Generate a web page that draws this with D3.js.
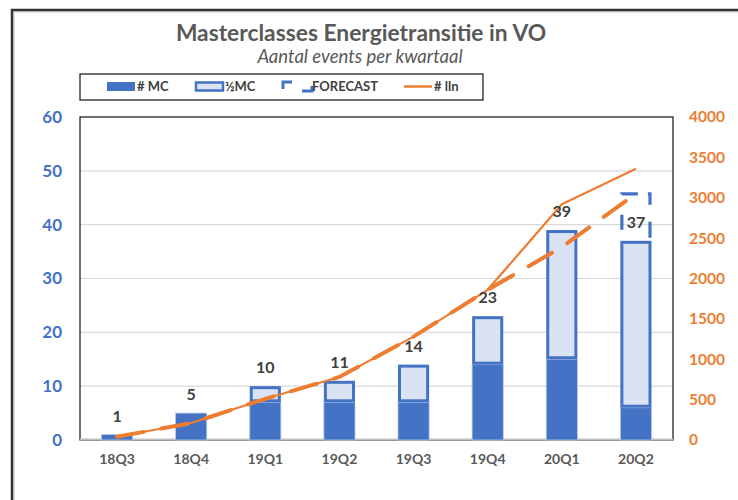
<!DOCTYPE html>
<html>
<head>
<meta charset="utf-8">
<script src="https://cdn.jsdelivr.net/npm/d3@7"></script>
<style>
  html, body { margin: 0; padding: 0; background: #fff; }
  svg { display: block; font-family: Lato, "Open Sans", sans-serif; }
</style>
</head>
<body>
<svg id="chart" width="738" height="500"></svg>
<script>
// ---- data ----
const categories = ["18Q3", "18Q4", "19Q1", "19Q2", "19Q3", "19Q4", "20Q1", "20Q2"];
const mcValues = [1, 5, 7, 7, 7, 14, 15, 6];          // # MC (dark)
const halfMcValues = [0, 0, 3, 4, 7, 9, 24, 31];      // ½MC (light)
const forecastValues = [0, 0, 0, 0, 0, 0, 0, 9];      // FORECAST (dashed outline)
const llnValues = [40, 210, 510, 780, 1280, 1860, 2920, 3360];       // # lln (solid)
const llnForecastValues = [40, 210, 510, 780, 1280, 1860, 2390, 3050]; // dashed forecast line
const leftTicks = [0, 10, 20, 30, 40, 50, 60];
const rightTicks = [0, 500, 1000, 1500, 2000, 2500, 3000, 3500, 4000];
const legendLabels = ["# MC", "½MC", "FORECAST", "# lln"];
const titleText = "Masterclasses Energietransitie in VO";
const subtitleText = "Aantal events per kwartaal";

// ---- layout ----
const svg = d3.select("#chart");
const blue = "#4472C4", lightBlue = "#DAE3F3", orange = "#ED7D31";
const plot = { left: 80, right: 673, top: 117, bottom: 440 };

// outer frame
svg.append("rect").attr("x", 14).attr("y", 12).attr("width", 800).attr("height", 600)
  .attr("fill", "none").attr("stroke", "#e3e3e3").attr("stroke-width", 2);
svg.append("rect").attr("x", 12).attr("y", 10).attr("width", 800).attr("height", 600)
  .attr("fill", "none").attr("stroke", "#333").attr("stroke-width", 2.5);

const x = d3.scaleBand().domain(categories).range([plot.left, plot.right])
  .paddingInner(0.58).paddingOuter(0.29);
const yL = d3.scaleLinear().domain([0, 60]).range([plot.bottom, plot.top]);
const yR = d3.scaleLinear().domain([0, 4000]).range([plot.bottom, plot.top]);

// gridlines
svg.append("g").selectAll("line").data(leftTicks.filter(d => d > 0 && d < 60)).join("line")
  .attr("x1", plot.left).attr("x2", plot.right)
  .attr("y1", d => yL(d)).attr("y2", d => yL(d))
  .attr("stroke", "#d9d9d9").attr("stroke-width", 1.2);

// plot border
svg.append("rect").attr("x", plot.left).attr("y", plot.top)
  .attr("width", plot.right - plot.left).attr("height", plot.bottom - plot.top)
  .attr("fill", "none").attr("stroke", "#111").attr("stroke-width", 1.2);

// axis line at bottom
svg.append("line").attr("x1", plot.left).attr("x2", plot.right)
  .attr("y1", plot.bottom - 0.5).attr("y2", plot.bottom - 0.5)
  .attr("stroke", "#bfbfbf").attr("stroke-width", 2);

// stacked data
const rows = categories.map((c, i) => ({ cat: c, mc: mcValues[i], half: halfMcValues[i], fc: forecastValues[i] }));
const stack = d3.stack().keys(["mc", "half", "fc"])(rows);
const bw = x.bandwidth();

// dark bars
svg.append("g").selectAll("rect").data(stack[0]).join("rect")
  .attr("x", d => x(d.data.cat)).attr("width", bw)
  .attr("y", d => yL(d[1])).attr("height", d => yL(d[0]) - yL(d[1]))
  .attr("fill", blue).attr("stroke", "#b4c7e7").attr("stroke-width", 0.8);

// light bars (outlined)
svg.append("g").selectAll("rect").data(stack[1].filter(d => d[1] > d[0])).join("rect")
  .attr("x", d => x(d.data.cat) + 1.5).attr("width", bw - 3)
  .attr("y", d => yL(d[1]) + 1.5).attr("height", d => yL(d[0]) - yL(d[1]) - 3)
  .attr("fill", lightBlue).attr("stroke", blue).attr("stroke-width", 3);

// forecast dashed box
svg.append("g").selectAll("rect").data(stack[2].filter(d => d[1] > d[0])).join("rect")
  .attr("x", d => x(d.data.cat) + 1.5).attr("width", bw - 3)
  .attr("y", d => yL(d[1]) + 1.5).attr("height", d => yL(d[0]) - yL(d[1]) - 1.5)
  .attr("fill", "none").attr("stroke", blue).attr("stroke-width", 3.2)
  .attr("stroke-dasharray", "16,10,13,17,16,42.4,15,20.4");

// lines
const cx = c => x(c) + bw / 2;
const lineR = d3.line().x((d, i) => cx(categories[i])).y(d => yR(d));
svg.append("path").datum(llnValues).attr("d", lineR)
  .attr("fill", "none").attr("stroke", orange).attr("stroke-width", 2.2)
  .attr("stroke-linejoin", "round");
svg.append("path").datum(llnForecastValues).attr("d", lineR)
  .attr("fill", "none").attr("stroke", orange).attr("stroke-width", 4)
  .attr("stroke-linecap", "round").attr("stroke-dasharray", "27,18");

// data labels (totals)
svg.append("g").selectAll("text").data(rows).join("text")
  .attr("x", d => cx(d.cat)).attr("y", d => yL(d.mc + d.half) - 13)
  .attr("text-anchor", "middle").attr("font-size", 16).attr("font-weight", 700)
  .attr("fill", "#404040").text(d => d.mc + d.half);

// left axis
const axL = svg.append("g").attr("transform", `translate(${plot.left - 18},0)`)
  .call(d3.axisLeft(yL).tickValues(leftTicks).tickSize(0).tickPadding(0));
axL.select(".domain").remove();
axL.selectAll("text").attr("fill", blue).attr("font-size", 17).attr("font-weight", 700)
  .attr("font-family", "Lato, sans-serif");

// right axis
const axR = svg.append("g").attr("transform", `translate(${plot.right + 16},0)`)
  .call(d3.axisRight(yR).tickValues(rightTicks).tickFormat(d3.format("d")).tickSize(0).tickPadding(0));
axR.select(".domain").remove();
axR.selectAll("text").attr("fill", orange).attr("font-size", 15.5).attr("font-weight", 700)
  .attr("font-family", "Lato, sans-serif");

// bottom axis
const axB = svg.append("g").attr("transform", `translate(0,${plot.bottom})`)
  .call(d3.axisBottom(x).tickSize(0).tickPadding(14));
axB.select(".domain").remove();
axB.selectAll("text").attr("fill", "#595959").attr("font-size", 14).attr("font-weight", 700)
  .attr("font-family", "Lato, sans-serif");

// title
svg.append("text").attr("x", 361).attr("y", 41).attr("text-anchor", "middle")
  .attr("font-size", 22.8).attr("font-weight", 700).attr("fill", "#595959").text(titleText);
svg.append("text").attr("x", 360).attr("y", 63).attr("text-anchor", "middle")
  .attr("font-size", 18.5).attr("font-style", "italic").attr("fill", "#595959").text(subtitleText);

// legend
const lg = svg.append("g");
lg.append("rect").attr("x", 80).attr("y", 74).attr("width", 403).attr("height", 26)
  .attr("fill", "#fff").attr("stroke", "#111").attr("stroke-width", 1.2);
const legX = [107, 195, 282, 404];
const sy = 81, sw = 29, sh = 10;
// # MC
lg.append("rect").attr("x", legX[0]).attr("y", sy + 1).attr("width", sw - 1).attr("height", sh - 1).attr("fill", blue);
// ½MC
lg.append("rect").attr("x", legX[1] + 1).attr("y", sy + 1.5).attr("width", sw - 2).attr("height", sh - 2)
  .attr("fill", lightBlue).attr("stroke", blue).attr("stroke-width", 2.5);
// FORECAST
lg.append("rect").attr("x", legX[2] + 1).attr("y", sy + 1).attr("width", 29).attr("height", 9)
  .attr("fill", "none").attr("stroke", blue).attr("stroke-width", 3)
  .attr("stroke-dasharray", "9,24,15,21,9");
// # lln
lg.append("line").attr("x1", legX[3]).attr("x2", legX[3] + 28).attr("y1", sy + 5.5).attr("y2", sy + 5.5)
  .attr("stroke", orange).attr("stroke-width", 2.5);
lg.selectAll("text.lt").data(legendLabels).join("text").attr("class", "lt")
  .attr("x", (d, i) => legX[i] + sw + 1).attr("y", sy + 10)
  .attr("font-size", 13).attr("font-weight", 700).attr("fill", "#404040").text(d => d);
</script>
</body>
</html>
